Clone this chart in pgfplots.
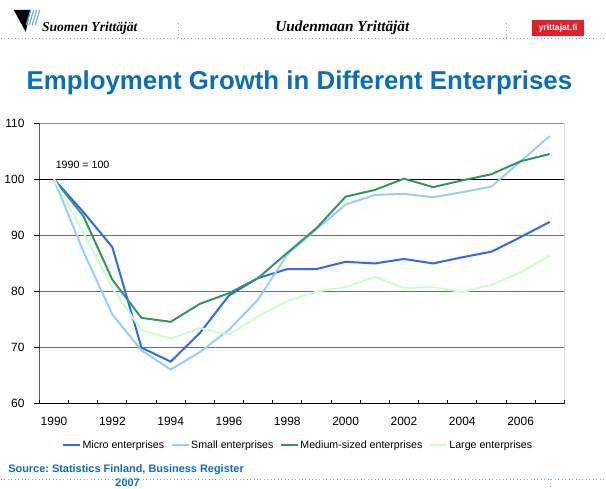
\documentclass[border=0pt]{standalone}
\usepackage{pgfplots}
\pgfplotsset{compat=1.18}
\usepackage{pgfplotstable}
\usepackage{fontspec}
\setmainfont{Liberation Sans}
\newfontfamily\headserif{Liberation Serif}

\definecolor{cmicro}{RGB}{51,102,255}
\definecolor{csmall}{RGB}{153,204,255}
\definecolor{cmedium}{RGB}{51,150,100}
\definecolor{clarge}{RGB}{204,255,204}
\definecolor{titleblue}{RGB}{10,110,190}
\definecolor{dotblue}{RGB}{120,170,220}
\definecolor{gridgray}{RGB}{112,112,112}
\definecolor{bordergray}{RGB}{150,150,150}
\definecolor{logored}{RGB}{230,30,40}

% index, 1990 = 100
\pgfplotstableread{
year  micro  small  medium  large
1990  100.0  100.0  100.0   100.0
1991  94.2   87.2   93.5    90.6
1992  87.9   75.9   82.1    80.6
1993  70.0   69.5   75.3    73.1
1994  67.5   66.1   74.6    71.6
1995  72.6   69.2   77.8    73.5
1996  79.3   73.2   79.7    72.3
1997  82.4   78.6   82.4    75.6
1998  84.0   86.6   86.9    78.3
1999  84.0   91.1   91.3    80.0
2000  85.3   95.5   96.9    80.8
2001  85.0   97.2   98.1    82.6
2002  85.8   97.4   100.1   80.6
2003  85.0   96.8   98.6    80.8
2004  86.1   97.7   99.8    79.9
2005  87.1   98.7   100.9   81.2
2006  89.7   103.2  103.2   83.4
2007  92.4   107.7  104.5   86.4
}\growth

\begin{document}
\frenchspacing
\begin{tikzpicture}
\begin{scope}[x=0.75pt,y=0.75pt]
\path[use as bounding box] (0,0) rectangle (606,489);

% header
\fill[black] (13,479) -- (30,479) -- (25,457) -- cycle;
\foreach \d in {0,3,6,9}
  \draw[dotblue, line width=0.9pt] (30+\d,479) -- (25.5+\d,464);
\node[anchor=base west, inner sep=0pt, font=\headserif\bfseries\itshape\fontsize{10.2}{12}\selectfont] at (41,457) {Suomen Yrittäjät};
\node[anchor=base, inner sep=0pt, font=\headserif\bfseries\itshape\fontsize{11.5}{13}\selectfont] at (342,457) {Uudenmaan Yrittäjät};
\fill[logored] (532,453) rectangle (584,469);
\node[text=white, inner sep=0pt, font=\bfseries\fontsize{6.5}{8}\selectfont] at (558,461) {yrittajat.fi};
\draw[dotblue, dotted, line width=0.6pt] (0,451) -- (606,451);
\draw[dotblue, dotted, line width=0.6pt] (178,451) -- (178,467);
\draw[dotblue, dotted, line width=0.6pt] (506,451) -- (506,467);

% title
\node[anchor=base, inner sep=0pt, text=titleblue, font=\bfseries\fontsize{19.4}{22}\selectfont] at (299,399) {Employment Growth in Different Enterprises};

% source
\node[anchor=west, inner sep=0pt, text=titleblue, font=\bfseries\fontsize{8.2}{10}\selectfont] at (7.3,19) {Source: Statistics Finland, Business Register};
\node[inner sep=0pt, text=titleblue, font=\bfseries\fontsize{8.2}{10}\selectfont] at (127,6) {2007};
\draw[dotblue, dotted, line width=0.6pt] (0,9.3) -- (606,9.3);
\draw[dotblue, dotted, line width=0.6pt] (550,9.3) -- (550,0);
\end{scope}

\begin{axis}[
    at={(29.025pt,63.525pt)}, anchor=south west,
    scale only axis,
    width=394.2pt, height=210.75pt,
    xmin=1989.5, xmax=2007.5,
    ymin=60, ymax=110,
    xtick={1990,1992,...,2006},
    minor xtick={1989.5,1990.5,...,2007.5},
    ytick={60,70,...,110},
    xtick pos=bottom, ytick pos=left,
    tick align=outside,
    major tick length=3.75pt,
    minor tick length=-3pt,
    x tick style={draw=none},
    minor x tick style={draw=black, line width=0.75pt},
    y tick style={black, line width=0.75pt},
    ymajorgrids,
    major grid style={gridgray, line width=0.75pt},
    axis line style={draw=none},
    /pgf/number format/assume math mode=true,
    /pgf/number format/1000 sep={},
    ticklabel style={font=\fontsize{9}{11}\selectfont},
    xticklabel style={yshift=-3pt},
    yticklabel style={xshift=-4pt},
    legend columns=4,
    legend style={at={(0.4924,-0.148)}, anchor=center, draw=none,
      font=\fontsize{8}{9.5}\selectfont,
      nodes={inner xsep=1pt},
      /tikz/every even column/.append style={column sep=4pt}},
    legend image code/.code={\draw[#1] (0pt,0pt) -- (12.75pt,0pt);},
    every axis plot/.append style={line width=1.5pt, no markers},
]
\draw[black, line width=0.9pt] (axis cs:1989.5,100) -- (axis cs:2007.5,100);
\draw[bordergray, line width=0.75pt] (rel axis cs:0,1) -- (rel axis cs:1,1) -- (rel axis cs:1,0);
\draw[black, line width=0.9pt] (rel axis cs:0,1) -- (rel axis cs:0,0) -- (rel axis cs:1,0);
\addplot[cmicro] table[x=year, y=micro] {\growth};
\addplot[csmall] table[x=year, y=small] {\growth};
\addplot[cmedium] table[x=year, y=medium] {\growth};
\addplot[clarge] table[x=year, y=large] {\growth};
\legend{Micro enterprises, Small enterprises, Medium-sized enterprises, Large enterprises}
\node[anchor=base west, inner sep=0pt, font=\fontsize{8}{10}\selectfont] at (axis cs:1990.05,102) {1990 = 100};
\end{axis}
\end{tikzpicture}
\end{document}
